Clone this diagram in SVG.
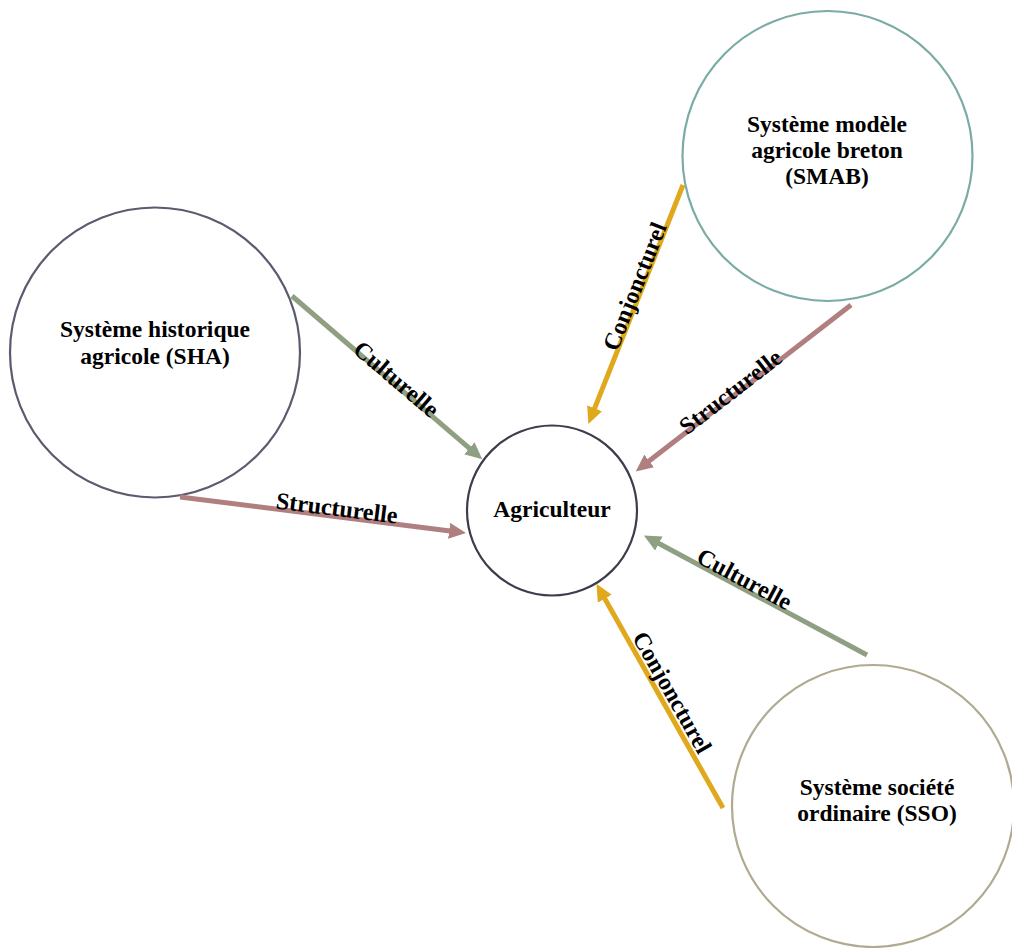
<svg xmlns="http://www.w3.org/2000/svg" width="1012" height="948" viewBox="0 0 1012 948">
<style>
.node{fill:#ffffff;stroke-width:2.2}
.nt{font-family:"Liberation Serif","Times New Roman",serif;font-weight:bold;font-size:23.5px;fill:#000;text-anchor:middle}
.lbl{font-family:"Liberation Serif","Times New Roman",serif;font-weight:bold;font-size:24px;fill:#000;text-anchor:middle}
.c{fill:none;stroke-width:5}
.cult{stroke:#8f9f82}
.str{stroke:#b08080}
.conj{stroke:#e0a81c}
</style>
<defs>
<marker id="aCult" markerUnits="userSpaceOnUse" markerWidth="18" markerHeight="16" refX="1" refY="8" orient="auto"><path d="M0,0 L17,8 L0,16 z" fill="#8f9f82"/></marker>
<marker id="aStr" markerUnits="userSpaceOnUse" markerWidth="18" markerHeight="16" refX="1" refY="8" orient="auto"><path d="M0,0 L17,8 L0,16 z" fill="#b08080"/></marker>
<marker id="aConj" markerUnits="userSpaceOnUse" markerWidth="18" markerHeight="16" refX="1" refY="8" orient="auto"><path d="M0,0 L17,8 L0,16 z" fill="#e0a81c"/></marker>
</defs>
<rect width="1012" height="948" fill="#ffffff"/>
<g id="sha">
<circle class="node" cx="155" cy="352.5" r="145" stroke="#5c5a6e"/>
<text class="nt" x="155" y="337">Système historique</text>
<text class="nt" x="155" y="364">agricole (SHA)</text>
</g>
<g id="smab">
<circle class="node" cx="827.5" cy="156" r="145" stroke="#7aaba5"/>
<text class="nt" x="827" y="132">Système modèle</text>
<text class="nt" x="827" y="158">agricole breton</text>
<text class="nt" x="827" y="184">(SMAB)</text>
</g>
<g id="agriculteur">
<circle class="node" cx="552" cy="510.5" r="85" stroke="#3c3c4c"/>
<text class="nt" x="552" y="517">Agriculteur</text>
</g>
<g id="sso">
<circle class="node" cx="873" cy="806" r="141" stroke="#b0aa90"/>
<text class="nt" x="877" y="795">Système société</text>
<text class="nt" x="877" y="821">ordinaire (SSO)</text>
</g>
<g id="connectors">
<line class="c cult" x1="292" y1="296" x2="470.1" y2="448.9" marker-end="url(#aCult)"/>
<line class="c str" x1="180" y1="497" x2="450.1" y2="530.9" marker-end="url(#aStr)"/>
<line class="c conj" x1="683" y1="185" x2="594.3" y2="409.2" marker-end="url(#aConj)"/>
<line class="c str" x1="851" y1="305" x2="648.4" y2="461.6" marker-end="url(#aStr)"/>
<line class="c cult" x1="867" y1="655" x2="658" y2="543" marker-end="url(#aCult)"/>
<line class="c conj" x1="723" y1="808" x2="604.3" y2="597.8" marker-end="url(#aConj)"/>
<text class="lbl" transform="translate(393.1,382.8) rotate(40.6)" y="3">Culturelle</text>
<text class="lbl" transform="translate(335.8,516.5) rotate(7.1)" y="-0.5">Structurelle</text>
<text class="lbl" transform="translate(641.8,289.1) rotate(-68.4)" y="0.5">Conjoncturel</text>
<text class="lbl" transform="translate(733.6,395.7) rotate(-37.7)" y="3">Structurelle</text>
<text class="lbl" transform="translate(740.1,587.1) rotate(28.2)" y="-1.3">Culturelle</text>
<text class="lbl" transform="translate(660.8,698.9) rotate(60.5)" y="-5">Conjoncturel</text>
</g>
</svg>
